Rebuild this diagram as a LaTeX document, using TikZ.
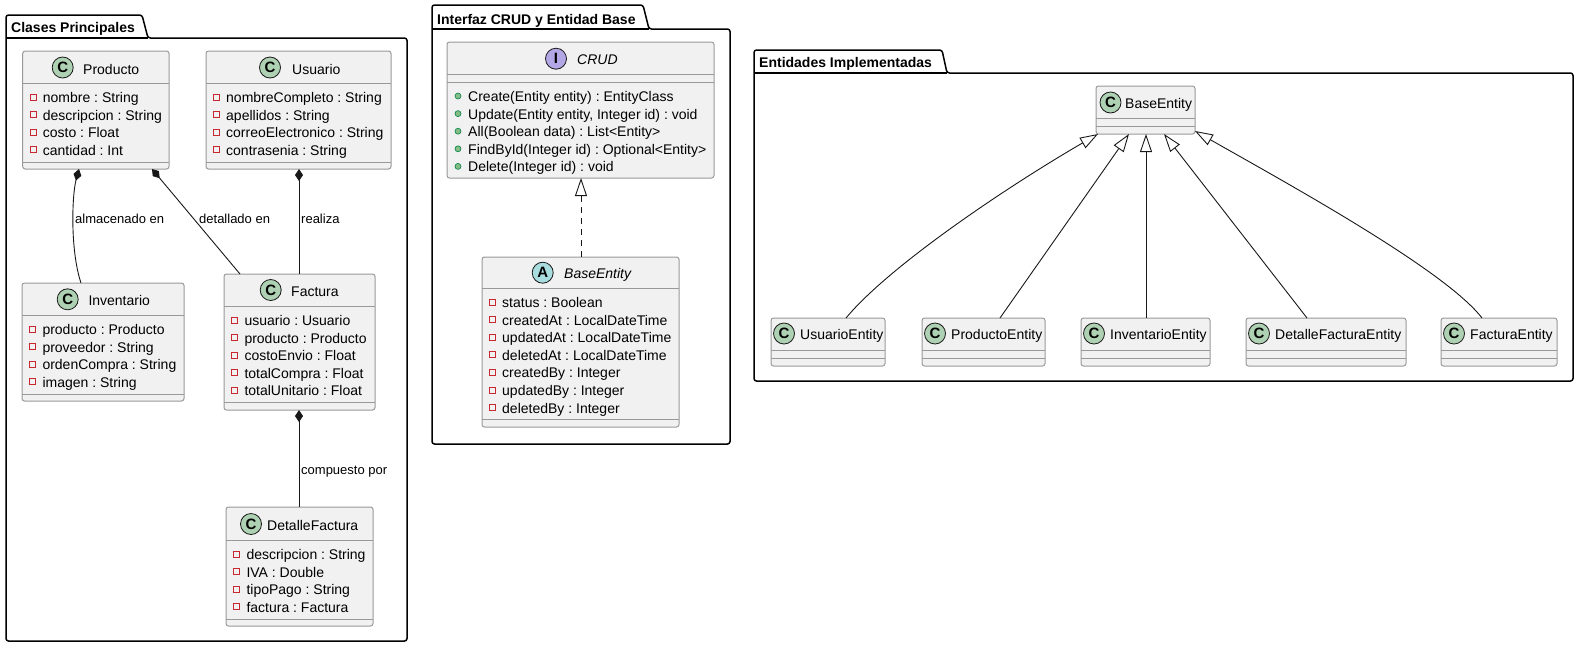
\documentclass[tikz,border=0pt]{standalone}
\usepackage{fontspec}
\setmainfont{Liberation Sans}
\usetikzlibrary{arrows.meta}
\frenchspacing
\definecolor{boxfill}{HTML}{F1F1F1}
\definecolor{boxline}{HTML}{999999}
\definecolor{linecol}{HTML}{181818}
\definecolor{cgreen}{HTML}{ADD1B2}
\definecolor{ipurple}{HTML}{B4A7E5}
\definecolor{acyan}{HTML}{A9DCDF}
\definecolor{privred}{HTML}{C82930}
\definecolor{pubgreen}{HTML}{84BE84}
\definecolor{pubdark}{HTML}{038048}
\newcount\txtcnt
\newcommand\mkclass[5]{\node[clsbox, minimum width={#4pt-#2pt}, minimum height={#5pt-#3pt}] (#1) at (#2,#3) {};}
\newcommand\sepl[3]{\draw[sepline] (#1,#3) -- (#2,#3);}
\newcommand\privattr[3]{\global\advance\txtcnt by 1
  \draw[privicon] ({#1-3},{#2-8.5}) rectangle ({#1+3},{#2-2.5});
  \node[attrtxt] (ta\the\txtcnt) at ({#1+9.5},#2) {#3};}
\newcommand\pubmeth[3]{\global\advance\txtcnt by 1
  \draw[pubicon] (#1,{#2-5.5}) circle[radius=3];
  \node[attrtxt] (tm\the\txtcnt) at ({#1+10},#2) {#3};}
\newcommand\entbox[4]{\mkclass{#1}{#2}{318}{#3}{366}\sepl{#2}{#3}{350}\sepl{#2}{#3}{358}
  \node[circ, fill=cgreen] (#1c) at ({#2+13},333.5) {C};
  \node[clsname] (#1n) at ({#2+29},339) {#4};}
\tikzset{
 clsbox/.style={rectangle, draw=boxline, fill=boxfill, rounded corners=2.5pt, line width=1pt, outer sep=0pt, inner sep=0pt, anchor=north west},
 sepline/.style={draw=boxline, line width=1pt},
 privicon/.style={draw=privred, line width=0.9pt},
 pubicon/.style={draw=pubdark, fill=pubgreen, line width=0.6pt},
 attrtxt/.style={anchor=base west, inner sep=0pt, font=\fontsize{14}{16}\selectfont},
 clsname/.style={anchor=base west, inner sep=0pt, font=\fontsize{14}{16}\selectfont},
 absname/.style={anchor=base west, inner sep=0pt, font=\fontsize{14}{16}\selectfont\itshape},
 circ/.style={circle, draw=linecol, line width=0.8pt, minimum size=21pt, inner sep=0pt, font=\fontsize{15}{15}\selectfont\bfseries},
 conn/.style={draw=linecol, line width=0.9pt},
 lbl/.style={anchor=base west, inner sep=0pt, font=\fontsize{13}{15}\selectfont},
 pkg/.style={draw=black, line width=1.5pt, rounded corners=2.5pt},
 pkgname/.style={anchor=base west, inner sep=0pt, font=\fontsize{14}{16}\selectfont\bfseries},
 comp/.tip={Diamond[fill=linecol, length=12pt, width=8pt]},
 inh/.tip={Triangle[open, length=18pt, width=12pt]},
}
\begin{document}
\begin{tikzpicture}[x=1pt,y=-1pt]
\useasboundingbox (0,0) rectangle (1580,649);
% ---------------- packages
\draw[pkg] (6,641) -- (6,15) -- (142,15) -- (148,38) -- (407,38) -- (407,641) -- cycle;
\draw[pkg, rounded corners=0pt] (6,38) -- (148,38);
\node[pkgname] (pkgA) at (11,32) {Clases Principales};
\draw[pkg] (432,444) -- (432,5) -- (643,5) -- (649,29) -- (730,29) -- (730,444) -- cycle;
\draw[pkg, rounded corners=0pt] (432,29) -- (649,29);
\node[pkgname] (pkgB) at (437,24) {Interfaz CRUD y Entidad Base};
\draw[pkg] (754,381) -- (754,50) -- (942,50) -- (947,73) -- (1573,73) -- (1573,381) -- cycle;
\draw[pkg, rounded corners=0pt] (754,73) -- (947,73);
\node[pkgname] (pkgC) at (759,67) {Entidades Implementadas};
% ---------------- Producto
\mkclass{producto}{22.7}{51}{169}{169}
\sepl{22.7}{169}{83}\sepl{22.7}{169}{162}
\node[circ, fill=cgreen] (productoc) at (62.7,67.5) {C};
\node[clsname] (producton) at (83,74) {Producto};
\privattr{33.2}{102.5}{nombre : String}
\privattr{33.2}{120.1}{descripcion : String}
\privattr{33.2}{137.7}{costo : Float}
\privattr{33.2}{155.3}{cantidad : Int}
% ---------------- Usuario
\mkclass{usuario}{206}{51}{391}{169}
\sepl{206}{391}{83}\sepl{206}{391}{162}
\node[circ, fill=cgreen] (usuarioc) at (270,67.5) {C};
\node[clsname] (usuarion) at (292,74) {Usuario};
\privattr{216.5}{102.5}{nombreCompleto : String}
\privattr{216.5}{120.1}{apellidos : String}
\privattr{216.5}{137.7}{correoElectronico : String}
\privattr{216.5}{155.3}{contrasenia : String}
% ---------------- Inventario
\mkclass{inventario}{22}{283}{184}{401}
\sepl{22}{184}{315}\sepl{22}{184}{394}
\node[circ, fill=cgreen] (inventarioc) at (67.7,299.3) {C};
\node[clsname] (inventarion) at (88.3,305.7) {Inventario};
\privattr{32.8}{334.5}{producto : Producto}
\privattr{32.8}{352.1}{proveedor : String}
\privattr{32.8}{369.7}{ordenCompra : String}
\privattr{32.8}{387.3}{imagen : String}
% ---------------- Factura
\mkclass{factura}{224}{274}{375}{410}
\sepl{224}{375}{306}\sepl{224}{375}{402.6}
\node[circ, fill=cgreen] (facturac) at (270.7,290) {C};
\node[clsname] (facturan) at (291,296) {Factura};
\privattr{234.8}{325.5}{usuario : Usuario}
\privattr{234.8}{343.1}{producto : Producto}
\privattr{234.8}{360.7}{costoEnvio : Float}
\privattr{234.8}{378.3}{totalCompra : Float}
\privattr{234.8}{395.9}{totalUnitario : Float}
% ---------------- DetalleFactura
\mkclass{detalle}{226}{507}{373}{626}
\sepl{226}{373}{540}\sepl{226}{373}{619}
\node[circ, fill=cgreen] (detallec) at (251,524) {C};
\node[clsname] (detallen) at (267,530) {DetalleFactura};
\privattr{236.8}{559.5}{descripcion : String}
\privattr{236.8}{577.1}{IVA : Double}
\privattr{236.8}{594.7}{tipoPago : String}
\privattr{236.8}{612.3}{factura : Factura}
% ---------------- connectors (left)
\draw[conn, comp-] ([xshift=56.3pt]producto.south west) .. controls (72,195) and (70,250) .. ([xshift=59pt]inventario.north west);
\draw[conn, comp-] ([xshift=129.3pt]producto.south west) -- ([xshift=16pt]factura.north west);
\draw[conn, comp-] ([xshift=93pt]usuario.south west) -- ([xshift=75pt]factura.north west);
\draw[conn, comp-] ([xshift=75pt]factura.south west) -- ([xshift=73pt]detalle.north west);
\node[lbl] (l1) at (75,223.5) {almacenado en};
\node[lbl] (l2) at (199,223.5) {detallado en};
\node[lbl] (l3) at (301,223.5) {realiza};
\node[lbl] (l4) at (301,474) {compuesto por};
% ---------------- CRUD
\mkclass{crud}{447}{42}{714}{178}
\sepl{447}{714}{74}\sepl{447}{714}{82}
\node[circ, fill=ipurple] (crudc) at (556,58.7) {I};
\node[absname] (crudn) at (577,64) {CRUD};
\pubmeth{458}{101.5}{Create(Entity entity) : EntityClass}
\pubmeth{458}{119.1}{Update(Entity entity, Integer id) : void}
\pubmeth{458}{136.7}{All(Boolean data) : List<Entity>}
\pubmeth{458}{154.3}{FindById(Integer id) : Optional<Entity>}
\pubmeth{458}{171.9}{Delete(Integer id) : void}
% ---------------- BaseEntity (abstract)
\mkclass{baseA}{482}{257}{679}{427}
\sepl{482}{679}{288}\sepl{482}{679}{419.8}
\node[circ, fill=acyan] (baseAc) at (542.7,272.7) {A};
\node[absname] (baseAn) at (564,278.3) {BaseEntity};
\privattr{492.5}{307.5}{status : Boolean}
\privattr{492.5}{325.1}{createdAt : LocalDateTime}
\privattr{492.5}{342.7}{updatedAt : LocalDateTime}
\privattr{492.5}{360.3}{deletedAt : LocalDateTime}
\privattr{492.5}{377.9}{createdBy : Integer}
\privattr{492.5}{395.5}{updatedBy : Integer}
\privattr{492.5}{413.1}{deletedBy : Integer}
\draw[conn, dash pattern=on 6pt off 5pt, -inh] ([xshift=99pt]baseA.north west) -- ([xshift=134pt]crud.south west);
% ---------------- right package
\mkclass{beR}{1096}{86}{1195}{134}
\sepl{1096}{1195}{118.7}\sepl{1096}{1195}{126.3}
\node[circ, fill=cgreen] (beRc) at (1110.5,102.5) {C};
\node[clsname] (beRn) at (1125,108.3) {BaseEntity};
\entbox{ueR}{771}{885}{UsuarioEntity}
\entbox{peR}{922}{1045}{ProductoEntity}
\entbox{ieR}{1081}{1210}{InventarioEntity}
\entbox{deR}{1246}{1406}{DetalleFacturaEntity}
\entbox{feR}{1441}{1557}{FacturaEntity}
\draw[conn, -inh] ([xshift=75pt]ueR.north west) .. controls (890,265) and (1010,185) .. ([xshift=2pt]beR.south west);
\draw[conn, -inh] ([xshift=78pt]peR.north west) -- ([xshift=33pt]beR.south west);
\draw[conn, -inh] ([xshift=65pt]ieR.north west) -- ([xshift=50pt]beR.south west);
\draw[conn, -inh] ([xshift=61pt]deR.north west) -- ([xshift=68pt]beR.south west);
\draw[conn, -inh] ([xshift=41pt]feR.north west) .. controls (1445,270) and (1290,185) .. ([yshift=3pt]beR.south east);
\end{tikzpicture}
\end{document}
